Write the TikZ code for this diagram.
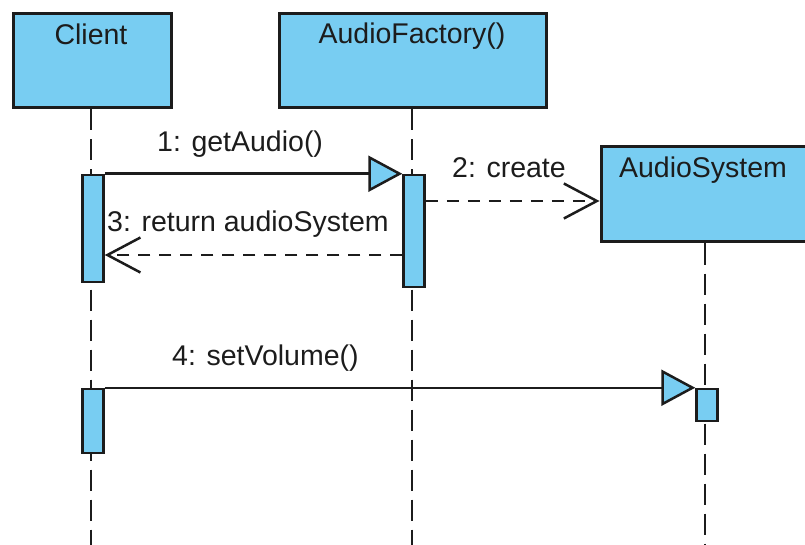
\documentclass[tikz,border=0pt]{standalone}
\usepackage{fontspec}
\setmainfont{Liberation Sans}
\usetikzlibrary{arrows.meta}
\definecolor{lifeblue}{RGB}{120,205,242}
\definecolor{ink}{RGB}{28,28,28}

\begin{document}
\begin{tikzpicture}[x=1pt,y=-1pt,
  every node/.style={font=\fontsize{28.5}{32}\selectfont, text=ink},
  objbox/.style={draw=ink, line width=3pt, fill=lifeblue, rectangle, inner sep=0pt},
  actbox/.style={draw=ink, line width=2.5pt, fill=lifeblue, rectangle, inner sep=0pt, minimum width=21pt},
  lifeline/.style={draw=ink, line width=2.5pt, dash pattern=on 21pt off 9pt},
  callmsg/.style={draw=ink, line width=2.5pt,
    -{Triangle[length=34pt,width=36pt,fill=lifeblue]}},
  replymsg/.style={draw=ink, line width=2.5pt, dash pattern=on 12pt off 9pt,
    -{Straight Barb[length=33pt,width=35pt]}},
  msglabel/.style={anchor=base west, inner sep=0pt},
  objlabel/.style={anchor=base, inner sep=0pt}
]
\useasboundingbox (0,0) rectangle (805,545);
\clip (0,0) rectangle (805,545);

% object heads
\node[objbox, minimum width=158pt, minimum height=94pt] (client) at (92,61) {};
\node[objbox, minimum width=267pt, minimum height=94pt] (factory) at (412.5,61) {};
\node[objbox, minimum width=208pt, minimum height=95pt] (asys) at (705,194.5) {};
\node[objlabel] (clientname) at (91,45) {Client};
\node[objlabel] (factoryname) at (412,44) {AudioFactory()};
\node[objlabel] (asysname) at (703,178) {AudioSystem};

% lifelines
\coordinate (clientend) at (91,545);
\coordinate (factoryend) at (412,545);
\coordinate (asysend) at (705,545);
\draw[lifeline] (client.south -| clientend) -- (clientend);
\draw[lifeline] (factory.south -| factoryend) -- (factoryend);
\draw[lifeline] (asys.south -| asysend) -- (asysend);

% activation bars
\node[actbox, minimum height=107pt] (act1) at (93,228.5) {};
\node[actbox, minimum height=112pt] (act2) at (414,231) {};
\node[actbox, minimum height=64pt] (act3) at (93,421) {};
\node[actbox, minimum height=32pt] (act4) at (707,405) {};

% messages
\coordinate (m2y) at (0,201);
\coordinate (m3y) at (0,255);
\draw[callmsg] (act1.north east) -- (act2.north west);
\draw[replymsg] (act2.east |- m2y) -- (asys.west |- m2y);
\draw[replymsg] (act2.west |- m3y) -- (act1.east |- m3y);
\draw[callmsg] (act3.north east) -- (act4.north west);

% message labels
\node[msglabel] (l1) at (157,152) {1: getAudio()};
\node[msglabel] (l2) at (452,178) {2: create};
\node[msglabel] (l3) at (107,232) {3: return audioSystem};
\node[msglabel] (l4) at (172,365) {4: setVolume()};
\end{tikzpicture}
\end{document}
